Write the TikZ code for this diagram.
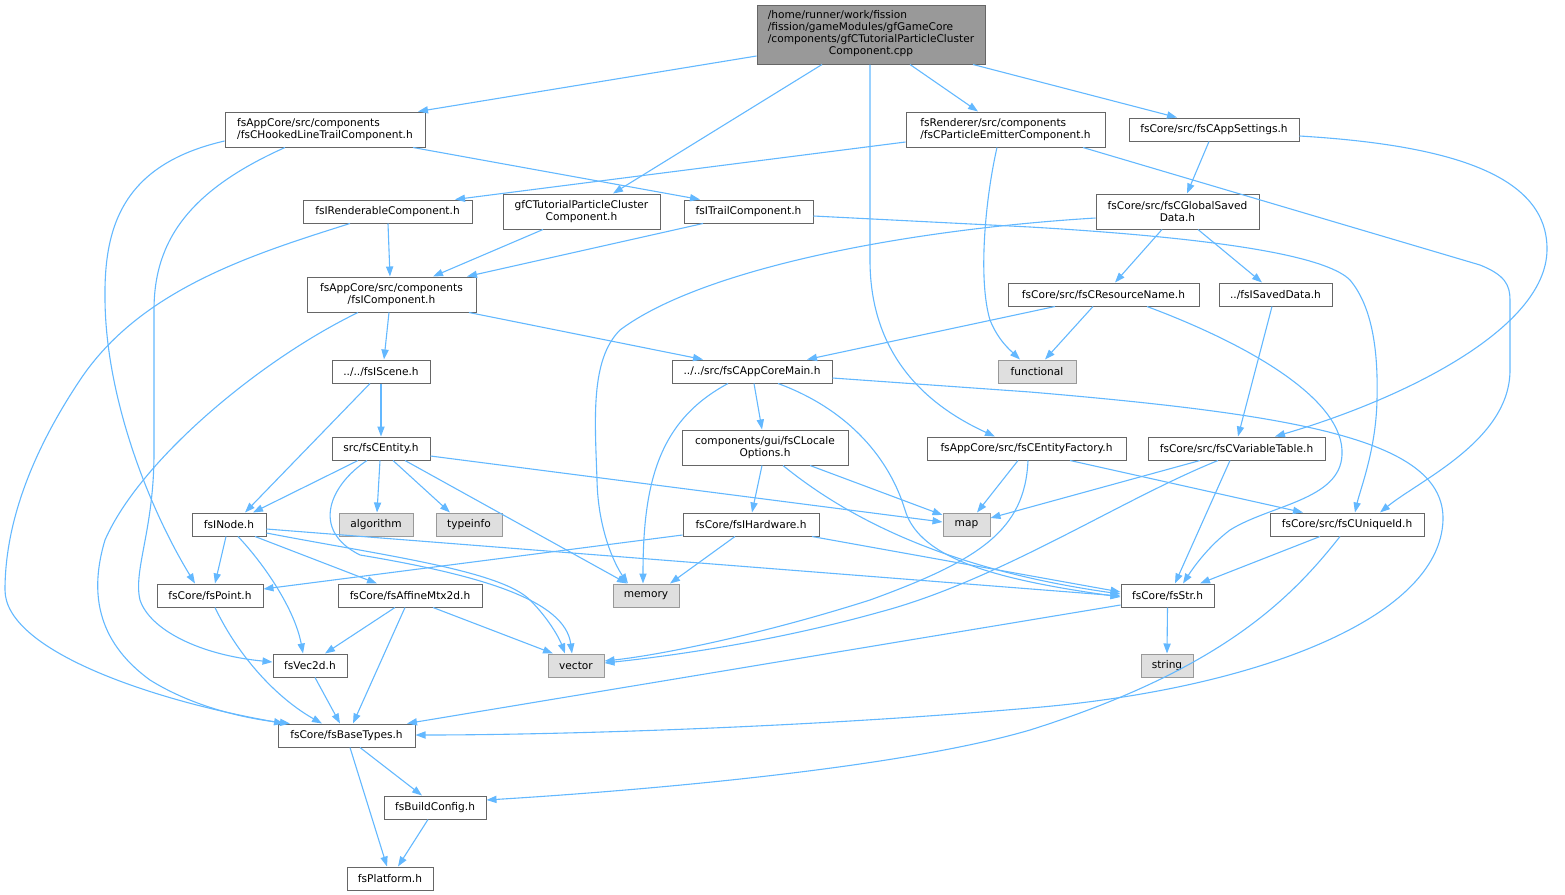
\documentclass[tikz,border=0pt]{standalone}
\usepackage{fontspec}
\setmainfont{DejaVu Sans}
\usetikzlibrary{arrows.meta}
\definecolor{edgec}{HTML}{63B8FF}
\definecolor{bordc}{HTML}{666666}
\definecolor{gbord}{HTML}{999999}
\definecolor{gfill}{HTML}{DFDFDF}
\definecolor{rootfill}{HTML}{999999}
\tikzset{
  nbox/.style={draw=bordc, fill=white, line width=0.5pt},
  gbox/.style={draw=gbord, fill=gfill, line width=0.5pt},
  rbox/.style={draw=bordc, fill=rootfill, line width=0.5pt},
  sz/.style 2 args={minimum width={#1*0.5pt}, minimum height={#2*0.5pt}},
  dep/.style={draw=edgec, line width=0.55pt, -{Triangle[length=5pt,width=3.6pt]}}
}
\begin{document}
\begin{tikzpicture}[x=0.5pt,y=-0.5pt,
  every node/.style={font=\fontsize{5.3}{6}\selectfont, inner sep=0pt, text=black}]
\useasboundingbox (0,0) rectangle (1565,895);

% nodes
\node[rbox, sz={228}{59}] (root) at (871,34.5) {\begin{tabular}{@{}l@{}}/home/runner/work/fission\\/fission/gameModules/gfGameCore\\/components/gfCTutorialParticleCluster\\\multicolumn{1}{@{}c@{}}{Component.cpp}\end{tabular}};
\node[nbox, sz={200}{35}, align=left] (hook) at (325,129.5) {fsAppCore/src/components\\/fsCHookedLineTrailComponent.h};
\node[nbox, sz={199}{35}, align=left] (rend) at (1005.5,129.5) {fsRenderer/src/components\\/fsCParticleEmitterComponent.h};
\node[nbox, sz={170}{23}] (apps) at (1214,129.5) {fsCore/src/fsCAppSettings.h};
\node[nbox, sz={169}{23}] (irend) at (387.5,211.5) {fsIRenderableComponent.h};
\node[nbox, sz={157}{35}, align=center] (gfch) at (581.5,211.5) {gfCTutorialParticleCluster\\Component.h};
\node[nbox, sz={129}{23}] (itrail) at (748.5,211.5) {fsITrailComponent.h};
\node[nbox, sz={163}{35}, align=center] (gsd) at (1177.5,211.5) {fsCore/src/fsCGlobalSaved\\Data.h};
\node[nbox, sz={169}{35}, align=center] (icomp) at (391.5,294.5) {fsAppCore/src/components\\/fsIComponent.h};
\node[nbox, sz={191}{23}] (resn) at (1103.5,294.5) {fsCore/src/fsCResourceName.h};
\node[nbox, sz={113}{23}] (isd) at (1275.5,294.5) {../fsISavedData.h};
\node[nbox, sz={98}{23}] (iscene) at (381,371.5) {../../fsIScene.h};
\node[nbox, sz={160}{23}] (acm) at (752,371.5) {../../src/fsCAppCoreMain.h};
\node[gbox, sz={78}{23}] (func) at (1037,371.5) {functional};
\node[nbox, sz={98}{23}] (ent) at (381,448.5) {src/fsCEntity.h};
\node[nbox, sz={166}{35}, align=center] (loc) at (765,447.5) {components/gui/fsCLocale\\Options.h};
\node[nbox, sz={199}{23}] (efac) at (1026.5,448.5) {fsAppCore/src/fsCEntityFactory.h};
\node[nbox, sz={177}{23}] (vtab) at (1236.5,448.5) {fsCore/src/fsCVariableTable.h};
\node[nbox, sz={74}{23}] (inode) at (229,524.5) {fsINode.h};
\node[gbox, sz={74}{23}] (algo) at (376,524.5) {algorithm};
\node[gbox, sz={66}{23}] (tinfo) at (469,524.5) {typeinfo};
\node[gbox, sz={47}{23}] (map) at (966.5,524.5) {map};
\node[nbox, sz={136}{23}] (hw) at (751,524.5) {fsCore/fsIHardware.h};
\node[nbox, sz={154}{23}] (uid) at (1347,524.5) {fsCore/src/fsCUniqueId.h};
\node[nbox, sz={106}{23}] (point) at (210,595.5) {fsCore/fsPoint.h};
\node[nbox, sz={144}{23}] (affine) at (410,595.5) {fsCore/fsAffineMtx2d.h};
\node[gbox, sz={66}{23}] (mem) at (646,595.5) {memory};
\node[nbox, sz={93}{23}] (str) at (1167.5,595.5) {fsCore/fsStr.h};
\node[nbox, sz={74}{23}] (vec2d) at (310,665.5) {fsVec2d.h};
\node[gbox, sz={56}{23}] (vector) at (576,665.5) {vector};
\node[gbox, sz={52}{23}] (string) at (1167,665.5) {string};
\node[nbox, sz={137}{23}] (base) at (346.5,735.5) {fsCore/fsBaseTypes.h};
\node[nbox, sz={102}{23}] (build) at (435,807.5) {fsBuildConfig.h};
\node[nbox, sz={86}{23}] (plat) at (390,878.5) {fsPlatform.h};

% edges from root
\draw[dep] (root.west |- 0,56) -- (hook.north -| 418,0);
\draw[dep] (root.south -| 822,0) -- (gfch.north -| 613,0);
\draw[dep] (root.south -| 870,0) -- (870,260) .. controls (870,345) and (915,400) .. (efac.north -| 995,0);
\draw[dep] (root.south -| 910,0) -- (rend.north -| 978,0);
\draw[dep] (root.south -| 973,0) -- (apps.north -| 1177,0);

% hook
\draw[dep] (hook.south -| 413,0) -- (itrail.north -| 700,0);
\draw[dep] (hook.west |- 0,141) .. controls (120,165) and (104,230) .. (105,300) .. controls (106,400) and (150,510) .. (point.north -| 195,0);
\draw[dep] (hook.south -| 285,0) .. controls (190,190) and (154,240) .. (154,310) -- (154,453) .. controls (154,530) and (133,570) .. (140,600) .. controls (150,630) and (200,655) .. (vec2d.west |- 0,662);

% rend
\draw[dep] (rend.west |- 0,142) -- (irend.north -| 455,0);
\draw[dep] (rend.south -| 997,0) .. controls (985,200) and (978,280) .. (990,320) .. controls (998,340) and (1010,350) .. (func.north -| 1020,0);
\draw[dep] (rend.south -| 1083,0) -- (1480,265) .. controls (1505,275) and (1510,285) .. (1510,300) -- (1510,370) .. controls (1510,440) and (1420,480) .. (uid.north -| 1380,0);

% apps
\draw[dep] (apps.south -| 1209,0) -- (gsd.north -| 1187,0);
\draw[dep] (apps.east |- 0,136) .. controls (1450,145) and (1548,175) .. (1547,250) .. controls (1546,330) and (1400,400) .. (vtab.north -| 1275,0);

% irend
\draw[dep] (irend.south -| 388,0) -- (icomp.north -| 390,0);
\draw[dep] (irend.south -| 350,0) .. controls (250,255) and (140,290) .. (80,380) .. controls (20,470) and (5,540) .. (5,590) .. controls (5,650) and (150,700) .. (base.north -| 284,0);

% gfch, itrail
\draw[dep] (gfch.south -| 543,0) -- (icomp.north -| 433,0);
\draw[dep] (itrail.south -| 703,0) -- (icomp.north -| 467,0);
\draw[dep] (itrail.east |- 0,216) -- (1030,227) .. controls (1250,240) and (1330,260) .. (1350,280) .. controls (1375,310) and (1378,360) .. (1377,400) .. controls (1376,450) and (1360,490) .. (uid.north -| 1355,0);

% gsd
\draw[dep] (gsd.south -| 1162,0) -- (resn.north -| 1115,0);
\draw[dep] (gsd.south -| 1198,0) -- (isd.north -| 1262,0);
\draw[dep] (gsd.west |- 0,218) .. controls (900,230) and (700,270) .. (620,330) .. controls (590,360) and (595,420) .. (597,480) .. controls (598,530) and (615,565) .. (mem.north -| 628,0);

% icomp
\draw[dep] (icomp.south -| 389,0) -- (iscene.north -| 384,0);
\draw[dep] (icomp.south -| 469,0) -- (acm.north -| 703,0);
\draw[dep] (icomp.south -| 358,0) .. controls (260,360) and (140,460) .. (105,540) .. controls (90,590) and (95,640) .. (150,680) .. controls (190,705) and (240,718) .. (base.north -| 290,0);

% resn, isd
\draw[dep] (resn.south -| 1093,0) -- (func.north -| 1045,0);
\draw[dep] (resn.south -| 1055,0) -- (acm.north -| 807,0);
\draw[dep] (resn.south -| 1147,0) .. controls (1250,345) and (1345,400) .. (1342,455) .. controls (1340,500) and (1270,505) .. (1230,530) .. controls (1210,545) and (1195,565) .. (str.north -| 1183,0);
\draw[dep] (isd.south -| 1272,0) -- (vtab.north -| 1238,0);

% iscene
\draw[dep] (iscene.south) -- (ent.north);
\draw[dep] (iscene.south -| 370,0) -- (inode.north -| 245,0);

% acm
\draw[dep] (acm.south -| 754,0) -- (loc.north -| 762,0);
\draw[dep] (acm.south -| 728,0) .. controls (660,420) and (643,480) .. (mem.north -| 643,0);
\draw[dep] (acm.south -| 778,0) .. controls (850,410) and (890,460) .. (905,510) .. controls (920,560) and (1000,580) .. (str.west |- 0,597);
\draw[dep] (acm.east |- 0,378) -- (1030,392) .. controls (1300,415) and (1445,440) .. (1443,520) .. controls (1440,620) and (1250,690) .. (1030,708) .. controls (800,728) and (550,735) .. (base.east |- 0,735);

% loc
\draw[dep] (loc.south -| 762,0) -- (hw.north -| 752,0);
\draw[dep] (loc.south -| 810,0) -- (map.west |- 0,515);
\draw[dep] (loc.south -| 783,0) .. controls (850,520) and (950,570) .. (str.west |- 0,594);

% ent
\draw[dep] (ent.south -| 358,0) -- (inode.north -| 253,0);
\draw[dep] (ent.south -| 380,0) -- (algo.north -| 377,0);
\draw[dep] (ent.south -| 393,0) -- (tinfo.north -| 450,0);
\draw[dep] (ent.east |- 0,456) -- (map.west |- 0,522);
\draw[dep] (ent.south -| 405,0) -- (mem.north -| 627,0);
\draw[dep] (ent.south -| 367,0) .. controls (330,485) and (310,530) .. (360,555) .. controls (480,575) and (565,600) .. (vector.north -| 572,0);

% inode
\draw[dep] (inode.south -| 226,0) -- (point.north -| 215,0);
\draw[dep] (inode.south -| 238,0) .. controls (265,565) and (295,610) .. (vec2d.north -| 303,0);
\draw[dep] (inode.south -| 255,0) -- (affine.north -| 377,0);
\draw[dep] (inode.east |- 0,533) .. controls (380,555) and (500,570) .. (530,600) .. controls (550,620) and (560,640) .. (vector.north -| 565,0);
\draw[dep] (inode.east |- 0,529) -- (str.west |- 0,596);

% hw
\draw[dep] (hw.west |- 0,535) -- (point.east |- 0,589);
\draw[dep] (hw.south -| 735,0) -- (mem.north -| 670,0);
\draw[dep] (hw.south -| 812,0) -- (str.west |- 0,592);

% efac
\draw[dep] (efac.south -| 1018,0) -- (map.north -| 977,0);
\draw[dep] (efac.south -| 1070,0) -- (uid.north -| 1303,0);
\draw[dep] (efac.south -| 1028,0) .. controls (1025,530) and (980,560) .. (870,600) .. controls (760,635) and (660,655) .. (vector.east |- 0,661);

% vtab
\draw[dep] (vtab.south -| 1200,0) -- (map.east |- 0,518);
\draw[dep] (vtab.south -| 1230,0) -- (str.north -| 1175,0);
\draw[dep] (vtab.south -| 1218,0) .. controls (1120,500) and (1000,580) .. (880,612) .. controls (780,640) and (680,655) .. (vector.east |- 0,663);

% uid
\draw[dep] (uid.south -| 1320,0) -- (str.north -| 1200,0);
\draw[dep] (uid.south -| 1340,0) .. controls (1290,600) and (1220,670) .. (1030,730) .. controls (900,768) and (650,790) .. (build.east |- 0,800);

% affine
\draw[dep] (affine.south -| 395,0) -- (vec2d.north -| 325,0);
\draw[dep] (affine.south -| 405,0) -- (base.north -| 353,0);
\draw[dep] (affine.south -| 433,0) -- (vector.north -| 553,0);

% point, vec2d, str
\draw[dep] (point.south -| 215,0) .. controls (240,660) and (280,700) .. (base.north -| 322,0);
\draw[dep] (vec2d.south -| 315,0) -- (base.north -| 340,0);
\draw[dep] (str.south) -- (string.north);
\draw[dep] (str.west |- 0,605) -- (base.north -| 407,0);

% base, build
\draw[dep] (base.south -| 360,0) -- (build.north -| 422,0);
\draw[dep] (base.south -| 350,0) -- (plat.north -| 387,0);
\draw[dep] (build.south -| 428,0) -- (plat.north -| 398,0);
\end{tikzpicture}
\end{document}
